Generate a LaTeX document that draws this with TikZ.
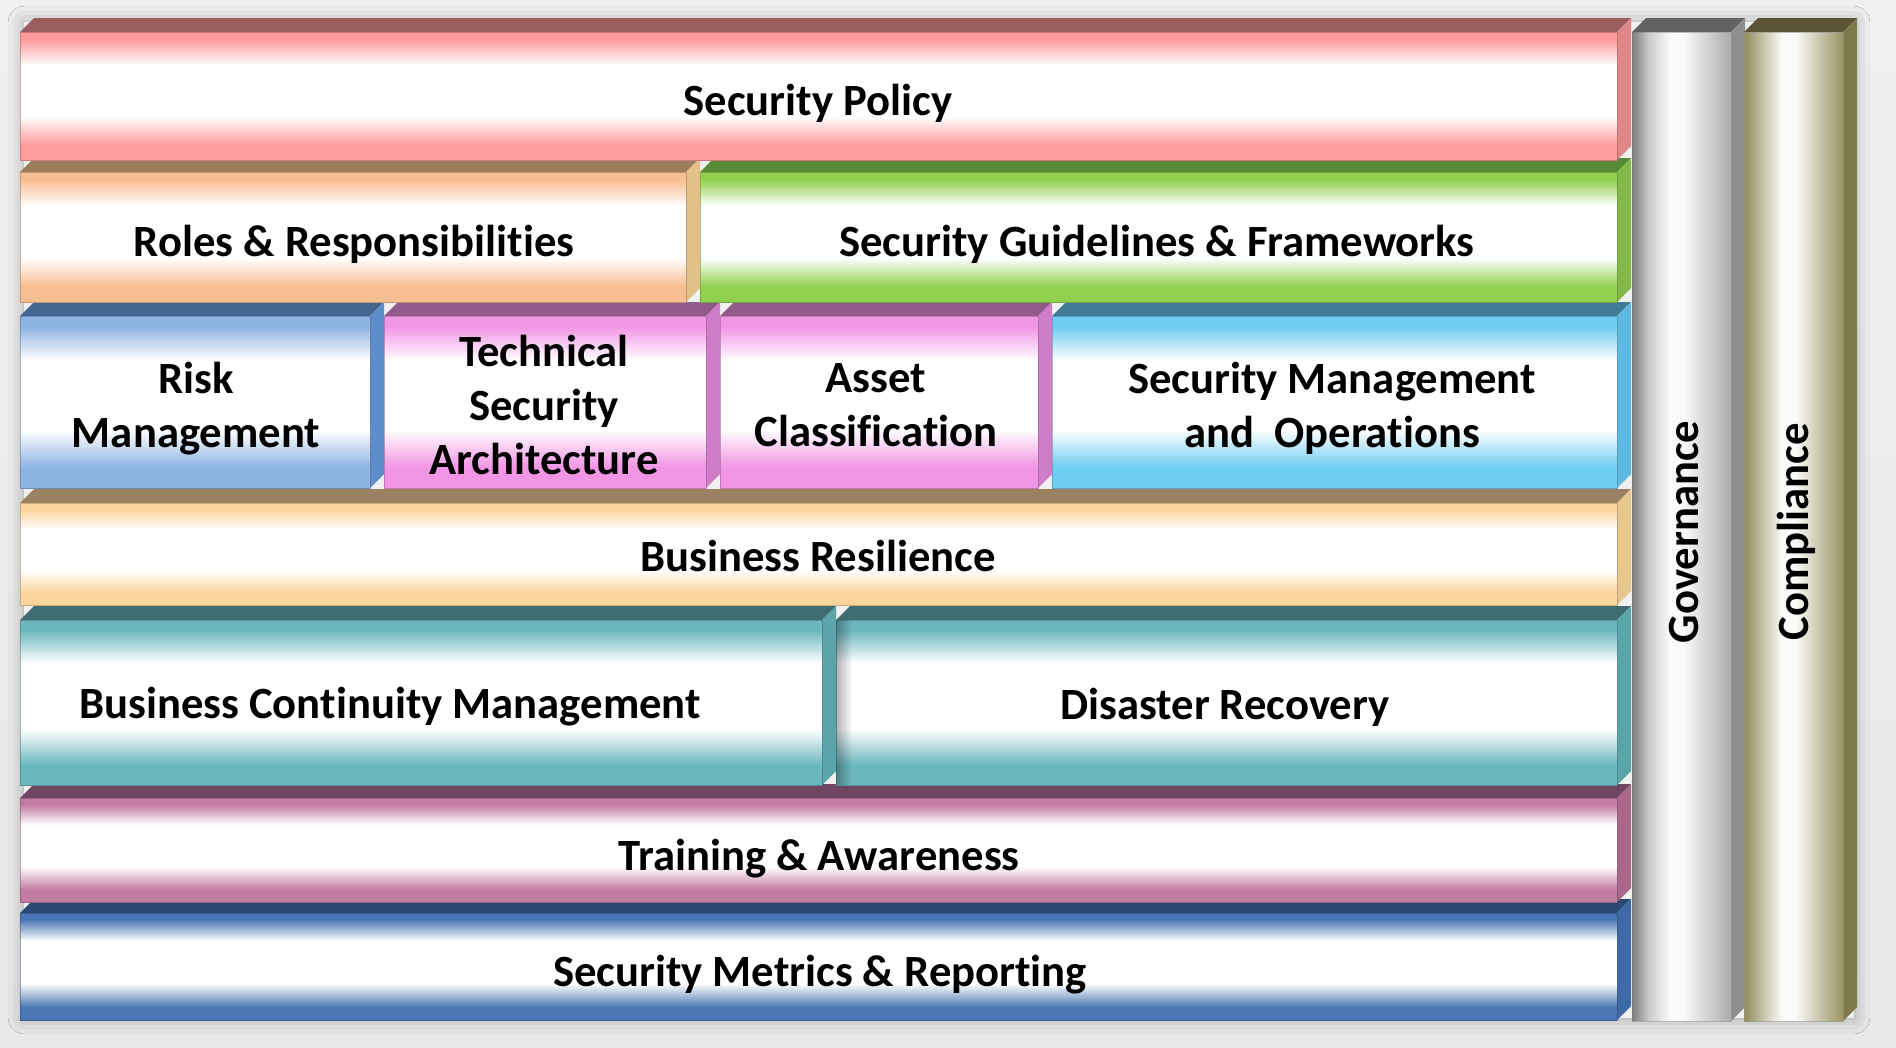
\documentclass[tikz,border=0pt]{standalone}
\usepackage{fontspec}
\setmainfont{Carlito}[Ligatures=NoCommon]
\usetikzlibrary{shadows.blur,fadings}

% colour slots read by the shadings below
\colorlet{bandc}{white}
\colorlet{pilL}{gray}
\colorlet{pilM}{white}
\colorlet{pilR}{gray}

% glossy horizontal slab: colour at the edges, white in the middle
\pgfdeclareverticalshading[bandc]{slab}{100bp}{color(0bp)=(bandc); color(25bp)=(bandc);
  color(31bp)=(bandc); color(42bp)=(white); color(62bp)=(white); color(72bp)=(bandc);
  color(75bp)=(bandc); color(100bp)=(bandc)}
% glossy upright pillar
\pgfdeclarehorizontalshading[pilL,pilM,pilR]{pillar}{100bp}{color(0bp)=(pilL); color(25bp)=(pilL);
  color(44bp)=(pilM); color(51bp)=(pilM); color(75bp)=(pilR); color(100bp)=(pilR)}

\tikzfading[name=fadeoutright, left color=transparent!0, right color=transparent!100]

\definecolor{bgtop}{HTML}{F0F0F0}
\definecolor{bgbot}{HTML}{E8E8E8}
% band / top face / side face of each slab
\definecolor{mfB}{HTML}{4A77B4}\definecolor{mfT}{HTML}{2B4A72}\definecolor{mfS}{HTML}{3D6AA7}
\definecolor{tfB}{HTML}{C27CA2}\definecolor{tfT}{HTML}{6F4661}\definecolor{tfS}{HTML}{A9678B}
\definecolor{bcB}{HTML}{6BB7BE}\definecolor{bcT}{HTML}{3F6C71}\definecolor{bcS}{HTML}{5BA4AA}
\definecolor{brB}{HTML}{FBD59B}\definecolor{brT}{HTML}{9B8162}\definecolor{brS}{HTML}{E9C68D}
\definecolor{smB}{HTML}{6FCCF2}\definecolor{smT}{HTML}{407C95}\definecolor{smS}{HTML}{5DB9DE}
\definecolor{pkB}{HTML}{F195E4}\definecolor{pkT}{HTML}{925A8B}\definecolor{pkS}{HTML}{D07DC8}
\definecolor{rmB}{HTML}{8EB4E3}\definecolor{rmT}{HTML}{426690}\definecolor{rmS}{HTML}{5F8DCB}
\definecolor{gfB}{HTML}{92D050}\definecolor{gfT}{HTML}{578A35}\definecolor{gfS}{HTML}{84B84A}
\definecolor{rrB}{HTML}{F7BE92}\definecolor{rrT}{HTML}{9A7D5A}\definecolor{rrS}{HTML}{E2C088}
\definecolor{spB}{HTML}{FF9B9B}\definecolor{spT}{HTML}{9B5E5E}\definecolor{spS}{HTML}{E08888}
\definecolor{goT}{HTML}{616161}\definecolor{goS}{HTML}{8E8E8E}
\definecolor{coT}{HTML}{5B5535}\definecolor{coS}{HTML}{7E794A}

% #1 centre name, #2 x1, #3 y1, #4 x2, #5 y2 (front face), #6 band, #7 top face, #8 side face
\newcommand\drawslab[8]{%
  \fill[#7] (#2,#3) -- ({#2+14},{#3-14}) -- ({#4+14},{#3-14}) -- (#4,#3) -- cycle;
  \fill[#8] (#4,#3) -- ({#4+14},{#3-14}) -- ({#4+14},{#5-14}) -- (#4,#5) -- cycle;
  \colorlet{bandc}{#6}%
  \path[shade, shading=slab] (#2,#3) rectangle (#4,#5);
  \draw[#6!60!black, line width=0.2pt, opacity=0.5] (#2,#3) rectangle (#4,#5);
  \coordinate (#1) at ({(#2+#4)/2},{(#3+#5)/2});
}

\tikzset{
  slabtext/.style={font=\bfseries\fontsize{12.7}{15.4}\selectfont, align=center,
    text=black, inner sep=0pt},
}

\begin{document}
\begin{tikzpicture}[x=0.01cm, y=-0.01cm]
  \useasboundingbox (0,0) rectangle (1896,1048);
  \shade[top color=bgtop, bottom color=bgbot] (0,0) rectangle (1896,1048);

  % soft shadow under the whole block
  \path[fill=bgtop, blur shadow={shadow xshift=0pt, shadow yshift=0pt,
    shadow blur radius=4.5pt, shadow opacity=30}] (24,22) rectangle (1854,1018);

  % bottom row first so that each upper row covers the top face below it
  \drawslab{mf}{20}{913}{1617}{1020}{mfB}{mfT}{mfS}
  \drawslab{tf}{20}{798}{1617}{902}{tfB}{tfT}{tfS}
  \drawslab{drf}{836}{620}{1617}{785}{bcB}{bcT}{bcS}
  \drawslab{bcf}{20}{620}{822}{785}{bcB}{bcT}{bcS}
  \fill[black, opacity=0.3, path fading=fadeoutright] (836,620) rectangle (852,785);
  \drawslab{brf}{20}{503}{1617}{605}{brB}{brT}{brS}
  \drawslab{smf}{1052}{316}{1617}{488}{smB}{smT}{smS}
  \drawslab{acf}{720}{316}{1038}{488}{pkB}{pkT}{pkS}
  \drawslab{taf}{384}{316}{706}{488}{pkB}{pkT}{pkS}
  \drawslab{rmf}{20}{316}{370}{488}{rmB}{rmT}{rmS}
  \drawslab{gff}{700}{172}{1617}{302}{gfB}{gfT}{gfS}
  \drawslab{rrf}{20}{172}{686}{302}{rrB}{rrT}{rrS}
  \drawslab{spf}{20}{32}{1617}{160}{spB}{spT}{spS}

  % Governance pillar
  \fill[goT] (1632,32) -- (1646,18) -- (1745,18) -- (1731,32) -- cycle;
  \fill[goS] (1731,32) -- (1745,18) -- (1745,1007) -- (1731,1021) -- cycle;
  \definecolor{pilL}{HTML}{A4A4A4}\definecolor{pilM}{HTML}{FAFAFA}\definecolor{pilR}{HTML}{ABABAB}
  \path[shade, shading=pillar] (1632,32) rectangle (1731,1021);
  \draw[black!40, line width=0.2pt, opacity=0.6] (1632,32) rectangle (1731,1021);
  % shade thrown by the slabs onto the pillar
  \fill[black, opacity=0.22, path fading=fadeoutright] (1632,32) rectangle (1648,1021);
  % Compliance pillar
  \fill[coT] (1744,32) -- (1758,18) -- (1857,18) -- (1843,32) -- cycle;
  \fill[coS] (1843,32) -- (1857,18) -- (1857,1007) -- (1843,1021) -- cycle;
  \definecolor{pilL}{HTML}{918B5A}\definecolor{pilM}{HTML}{FAFAF8}\definecolor{pilR}{HTML}{9A9362}
  \path[shade, shading=pillar] (1744,32) rectangle (1843,1021);
  \draw[black!40, line width=0.2pt, opacity=0.6] (1744,32) rectangle (1843,1021);

  % labels
  \node[slabtext] (policy) at (818,103) {Security Policy};
  \node[slabtext] (roles) at (354,244) {Roles \& Responsibilities};
  \node[slabtext] (guide) at (1157,244) {Security Guidelines \& Frameworks};
  \node[slabtext] (risk) at (196,409) {Risk\\Management};
  \node[slabtext] (tech) at (544,405) {Technical\\Security\\Architecture};
  \node[slabtext] (asset) at (876,405) {Asset\\Classification};
  \node[slabtext] (smo) at (1332,408) {Security Management\\and\ \ Operations};
  \node[slabtext] (resil) at (818,556) {Business Resilience};
  \node[slabtext] (bcm) at (390,707) {Business Continuity Management};
  \node[slabtext] (dr) at (1225,707) {Disaster Recovery};
  \node[slabtext] (train) at (819,859) {Training \& Awareness};
  \node[slabtext] (metric) at (820,975) {Security Metrics \& Reporting};
  \node[slabtext, rotate=90] (gov) at (1684,532) {Governance};
  \node[slabtext, rotate=90] (comp) at (1796,532) {Compliance};
\end{tikzpicture}
\end{document}
